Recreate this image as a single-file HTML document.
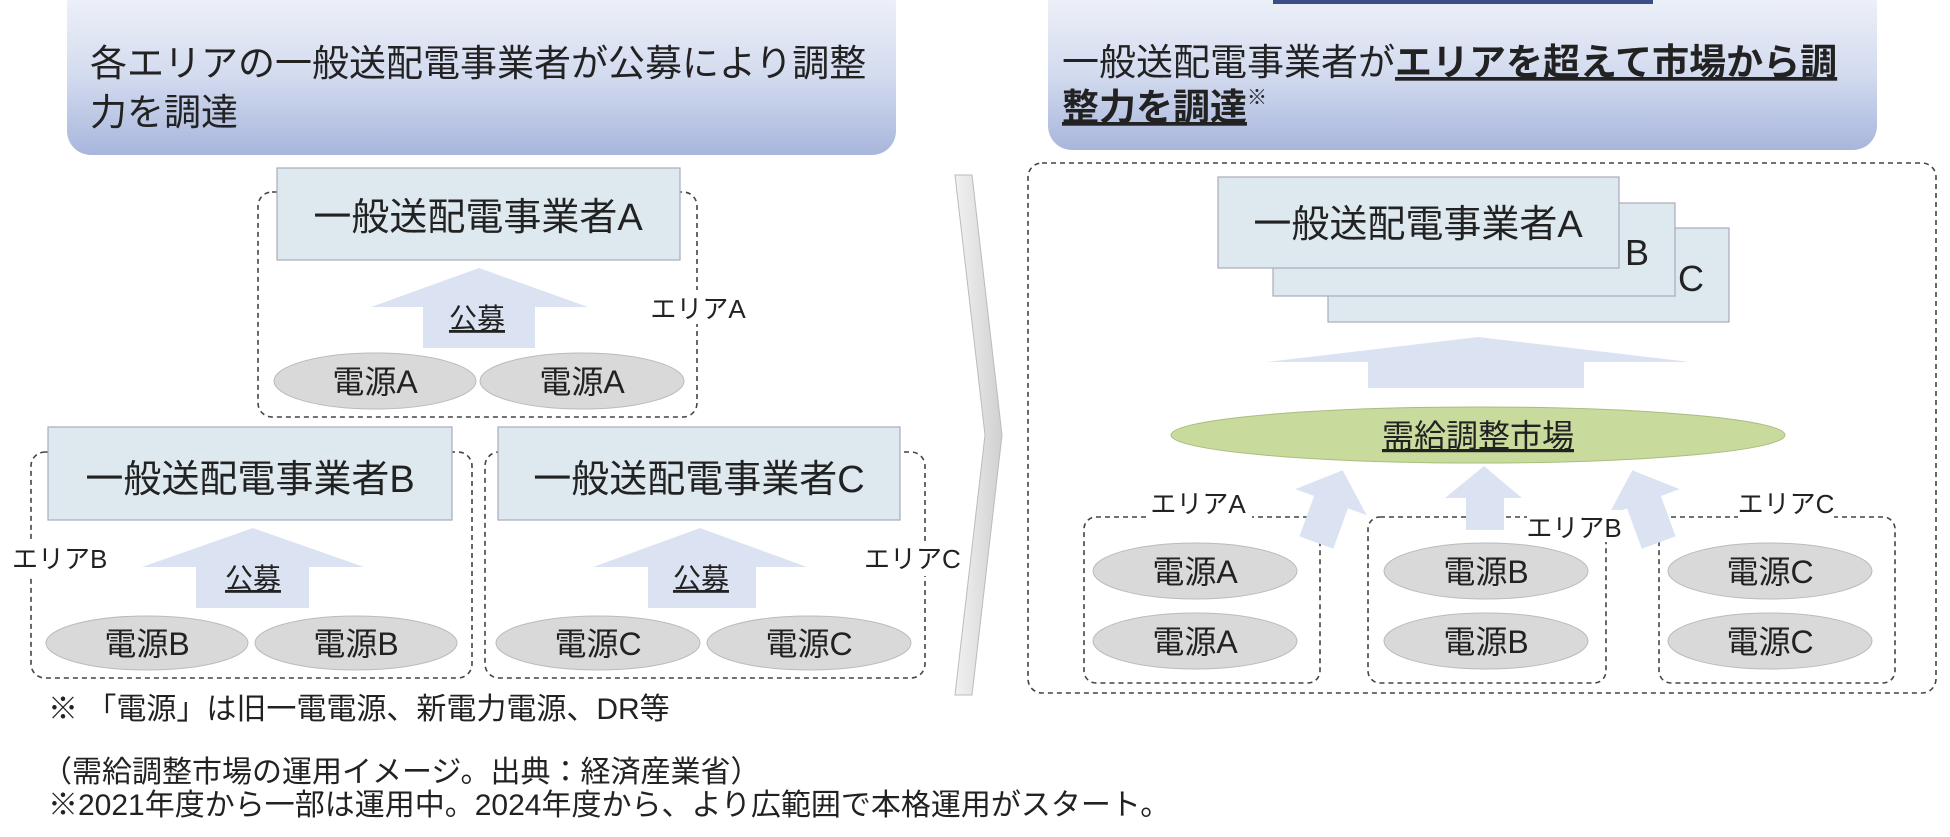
<!DOCTYPE html>
<html><head><meta charset="utf-8">
<style>
html,body{margin:0;padding:0;background:#fff;}
svg{display:block;font-family:"Liberation Sans","Noto Sans CJK JP",sans-serif;}
</style></head>
<body>
<svg width="1950" height="837" viewBox="0 0 1950 837" xmlns="http://www.w3.org/2000/svg">
<defs>
<linearGradient id="hg" x1="0" y1="0" x2="0" y2="1">
<stop offset="0" stop-color="#f3f5fa"/><stop offset="0.55" stop-color="#d3dbef"/><stop offset="1" stop-color="#a8b6dc"/>
</linearGradient>
<linearGradient id="cg" x1="0" y1="0" x2="1" y2="0">
<stop offset="0" stop-color="#f2f2f2"/><stop offset="1" stop-color="#d0d0d0"/>
</linearGradient>
</defs>

<!-- headers -->
<rect x="67" y="-20" width="829" height="175" rx="24" fill="url(#hg)"/>
<rect x="1048" y="-20" width="829" height="170" rx="24" fill="url(#hg)"/>
<rect x="1273" y="0" width="380" height="4" fill="#3a4f86"/>
<text x="90" y="76" font-size="37" letter-spacing="0" fill="#222">各エリアの一般送配電事業者が公募により調整</text>
<text x="90" y="125" font-size="37" letter-spacing="0" fill="#222">力を調達</text>
<text x="1062" y="75" font-size="37" letter-spacing="0" fill="#222">一般送配電事業者が<tspan font-weight="bold" text-decoration="underline">エリアを超えて市場から調</tspan></text>
<text x="1062" y="120" font-size="37" letter-spacing="0" fill="#222" font-weight="bold"><tspan text-decoration="underline">整力を調達</tspan><tspan font-size="20" dy="-16">※</tspan></text>

<!-- chevron -->
<polygon points="955,175 972,175 1002,435 972,695 955,695 985,435" fill="url(#cg)" stroke="#bbb" stroke-width="1"/>

<!-- LEFT: area A -->
<rect x="258" y="192" width="439" height="225" rx="14" fill="none" stroke="#444" stroke-width="1.6" stroke-dasharray="5 4"/>
<rect x="277" y="168" width="403" height="92" fill="#dde9ef" stroke="#aab" stroke-width="1.2"/>
<text x="478" y="230" font-size="38" text-anchor="middle" fill="#222">一般送配電事業者A</text>
<polygon points="371,307 479,268 588,307 535,307 535,348 423,348 423,307" fill="#dbe3f2"/>
<text x="477" y="328" font-size="28" text-anchor="middle" fill="#222" text-decoration="underline">公募</text>
<rect x="650" y="290" width="95" height="34" fill="#fff"/>
<text x="698" y="318" font-size="26" text-anchor="middle" fill="#222">エリアA</text>
<ellipse cx="375" cy="381" rx="101" ry="28" fill="#d9d9d9" stroke="#bbb"/>
<ellipse cx="582" cy="381" rx="102" ry="28" fill="#d9d9d9" stroke="#bbb"/>
<text x="375" y="393" font-size="32" text-anchor="middle" fill="#222">電源A</text>
<text x="582" y="393" font-size="32" text-anchor="middle" fill="#222">電源A</text>

<!-- LEFT: area B -->
<rect x="31" y="452" width="441" height="226" rx="14" fill="none" stroke="#444" stroke-width="1.6" stroke-dasharray="5 4"/>
<rect x="48" y="427" width="404" height="93" fill="#dde9ef" stroke="#aab" stroke-width="1.2"/>
<text x="250" y="492" font-size="38" text-anchor="middle" fill="#222">一般送配電事業者B</text>
<polygon points="142,567 253,528 364,567 309,567 309,608 196,608 196,567" fill="#dbe3f2"/>
<text x="253" y="588" font-size="28" text-anchor="middle" fill="#222" text-decoration="underline">公募</text>
<rect x="8" y="542" width="90" height="34" fill="#fff"/>
<text x="12" y="568" font-size="26" fill="#222">エリアB</text>
<ellipse cx="147" cy="643" rx="101" ry="27" fill="#d9d9d9" stroke="#bbb"/>
<ellipse cx="356" cy="643" rx="101" ry="27" fill="#d9d9d9" stroke="#bbb"/>
<text x="147" y="655" font-size="32" text-anchor="middle" fill="#222">電源B</text>
<text x="356" y="655" font-size="32" text-anchor="middle" fill="#222">電源B</text>

<!-- LEFT: area C -->
<rect x="485" y="452" width="440" height="226" rx="14" fill="none" stroke="#444" stroke-width="1.6" stroke-dasharray="5 4"/>
<rect x="498" y="427" width="402" height="93" fill="#dde9ef" stroke="#aab" stroke-width="1.2"/>
<text x="699" y="492" font-size="38" text-anchor="middle" fill="#222">一般送配電事業者C</text>
<polygon points="593,567 700,528 807,567 756,567 756,608 648,608 648,567" fill="#dbe3f2"/>
<text x="701" y="588" font-size="28" text-anchor="middle" fill="#222" text-decoration="underline">公募</text>
<rect x="860" y="542" width="92" height="34" fill="#fff"/>
<text x="864" y="568" font-size="26" fill="#222">エリアC</text>
<ellipse cx="598" cy="643" rx="102" ry="27" fill="#d9d9d9" stroke="#bbb"/>
<ellipse cx="809" cy="643" rx="102" ry="27" fill="#d9d9d9" stroke="#bbb"/>
<text x="598" y="655" font-size="32" text-anchor="middle" fill="#222">電源C</text>
<text x="809" y="655" font-size="32" text-anchor="middle" fill="#222">電源C</text>

<text x="48" y="719" font-size="30" fill="#222">※ 「電源」は旧一電電源、新電力電源、DR等</text>
<text x="42" y="782" font-size="30" fill="#222">（需給調整市場の運用イメージ。出典：経済産業省）</text>
<text x="48" y="815" font-size="30" fill="#222">※2021年度から一部は運用中。2024年度から、より広範囲で本格運用がスタート。</text>

<!-- RIGHT -->
<rect x="1028" y="163" width="908" height="530" rx="14" fill="none" stroke="#444" stroke-width="1.6" stroke-dasharray="5 4"/>
<rect x="1328" y="228" width="401" height="94" fill="#dde9ef" stroke="#aab" stroke-width="1.2"/>
<rect x="1273" y="203" width="402" height="93" fill="#dde9ef" stroke="#aab" stroke-width="1.2"/>
<rect x="1218" y="177" width="401" height="91" fill="#dde9ef" stroke="#aab" stroke-width="1.2"/>
<text x="1418" y="237" font-size="38" text-anchor="middle" fill="#222">一般送配電事業者A</text>
<text x="1625" y="265" font-size="36" fill="#222">B</text>
<text x="1678" y="291" font-size="36" fill="#222">C</text>
<polygon points="1267,362 1478,337 1690,362 1584,362 1584,388 1368,388 1368,362" fill="#dbe3f2"/>
<ellipse cx="1478" cy="435" rx="307" ry="28" fill="#c8da9c" stroke="#a9bd80"/>
<text x="1478" y="447" font-size="32" text-anchor="middle" fill="#222" text-decoration="underline">需給調整市場</text>

<rect x="1084" y="517" width="236" height="166" rx="12" fill="none" stroke="#444" stroke-width="1.6" stroke-dasharray="5 4"/>
<rect x="1368" y="517" width="238" height="166" rx="12" fill="none" stroke="#444" stroke-width="1.6" stroke-dasharray="5 4"/>
<rect x="1659" y="517" width="236" height="166" rx="12" fill="none" stroke="#444" stroke-width="1.6" stroke-dasharray="5 4"/>
<!-- small arrows -->
<polygon points="1445,498 1484,466 1522,498 1504,498 1504,530 1466,530 1466,498" fill="#dbe3f2"/>
<g transform="rotate(20 1330 505)"><polygon points="1292,502 1330,468 1368,502 1348,502 1348,545 1312,545 1312,502" fill="#dbe3f2"/></g>
<g transform="rotate(-20 1645 505)"><polygon points="1607,502 1645,468 1683,502 1663,502 1663,545 1627,545 1627,502" fill="#dbe3f2"/></g>
<rect x="1148" y="488" width="104" height="34" fill="#fff"/>
<text x="1198" y="513" font-size="26" text-anchor="middle" fill="#222">エリアA</text>
<rect x="1527" y="510" width="94" height="32" fill="#fff"/>
<text x="1574" y="537" font-size="26" text-anchor="middle" fill="#222">エリアB</text>
<rect x="1738" y="488" width="96" height="34" fill="#fff"/>
<text x="1786" y="513" font-size="26" text-anchor="middle" fill="#222">エリアC</text>

<ellipse cx="1195" cy="571" rx="102" ry="28" fill="#d9d9d9" stroke="#bbb"/>
<ellipse cx="1195" cy="641" rx="102" ry="28" fill="#d9d9d9" stroke="#bbb"/>
<ellipse cx="1486" cy="571" rx="102" ry="28" fill="#d9d9d9" stroke="#bbb"/>
<ellipse cx="1486" cy="641" rx="102" ry="28" fill="#d9d9d9" stroke="#bbb"/>
<ellipse cx="1770" cy="571" rx="102" ry="28" fill="#d9d9d9" stroke="#bbb"/>
<ellipse cx="1770" cy="641" rx="102" ry="28" fill="#d9d9d9" stroke="#bbb"/>
<text x="1195" y="583" font-size="32" text-anchor="middle" fill="#222">電源A</text>
<text x="1195" y="653" font-size="32" text-anchor="middle" fill="#222">電源A</text>
<text x="1486" y="583" font-size="32" text-anchor="middle" fill="#222">電源B</text>
<text x="1486" y="653" font-size="32" text-anchor="middle" fill="#222">電源B</text>
<text x="1770" y="583" font-size="32" text-anchor="middle" fill="#222">電源C</text>
<text x="1770" y="653" font-size="32" text-anchor="middle" fill="#222">電源C</text>
</svg>
</body></html>
